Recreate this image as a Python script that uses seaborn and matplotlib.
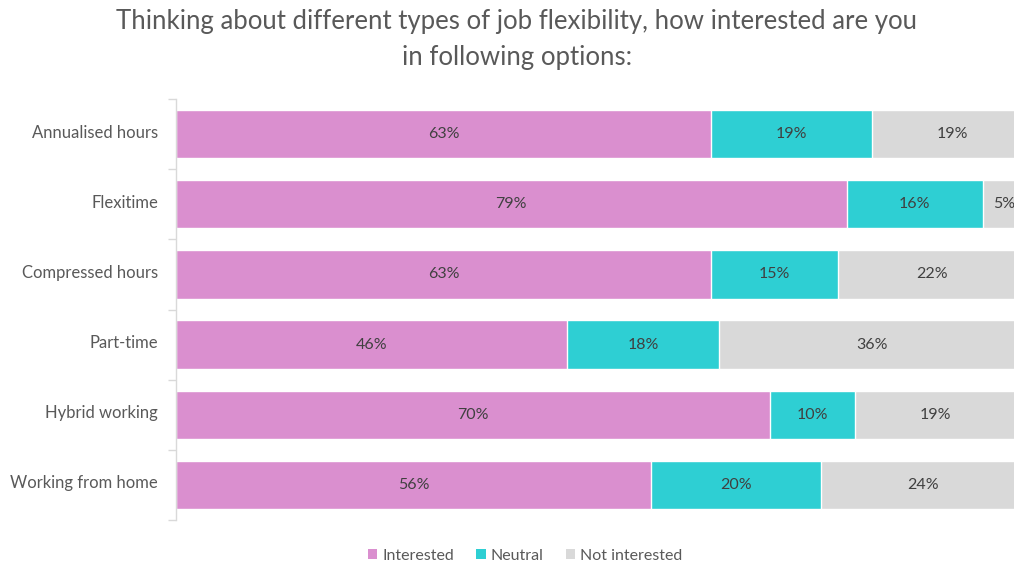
import numpy as np
import pandas as pd
import matplotlib
matplotlib.use("Agg")
import matplotlib.pyplot as plt
import matplotlib.transforms as mtransforms
import seaborn as sns
from matplotlib.patches import Patch

categories = ["Annualised hours", "Flexitime", "Compressed hours",
              "Part-time", "Hybrid working", "Working from home"]
interested = [63, 79, 63, 46, 70, 56]
neutral = [19, 16, 15, 18, 10, 20]
not_interested = [19, 5, 22, 36, 19, 24]
series_names = ["Interested", "Neutral", "Not interested"]

title_lines = ["Thinking about different types of job flexibility, how interested are you",
               "in following options:"]

colors = {"Interested": "#DA8FCF", "Neutral": "#2ECFD3", "Not interested": "#D9D9D9"}
text_color = "#595959"
label_color = "#404040"

sns.set_theme(style="white")
plt.rcParams["font.family"] = ["Lato", "DejaVu Sans"]

df = pd.DataFrame({
    "category": categories,
    "Interested": interested,
    "Neutral": neutral,
    "Not interested": not_interested,
})
df["cum1"] = df["Interested"]
df["cum2"] = df["cum1"] + df["Neutral"]
df["cum3"] = df["cum2"] + df["Not interested"]

fig = plt.figure(figsize=(10.14, 5.65), dpi=100)
W, H = 1014, 565
left_px, right_px, top_px, bottom_px = 176, 1025, 99, 520
ax = fig.add_axes([left_px / W, (H - bottom_px) / H,
                   (right_px - left_px) / W, (bottom_px - top_px) / H])

# Stacked bars drawn as overlapping cumulative totals, widest first
for col, name in [("cum3", "Not interested"), ("cum2", "Neutral"), ("cum1", "Interested")]:
    sns.barplot(data=df, x=col, y="category", orient="h", color=colors[name],
                width=0.69, edgecolor="white", linewidth=1.0, saturation=1,
                ax=ax)

# Segment value labels
for i, row in df.iterrows():
    starts = [0, row["cum1"], row["cum2"]]
    for start, name in zip(starts, series_names):
        v = row[name]
        ax.text(start + v / 2, i, f"{v}%", ha="center", va="center",
                fontsize=11.5, color=label_color)

ax.set_xlim(0, 100)
ax.set_ylim(5.5, -0.5)
ax.set_xlabel("")
ax.set_ylabel("")
ax.set_xticks([])

# Category axis with tick marks between categories
ax.set_yticks(np.arange(len(categories)))
ax.set_yticklabels(categories, fontsize=12, color=text_color)
ax.tick_params(axis="y", length=0, pad=13)
lift = mtransforms.ScaledTranslation(0, 3 / 100, fig.dpi_scale_trans)
for lbl in ax.get_yticklabels():
    lbl.set_transform(lbl.get_transform() + lift)
ax.set_yticks(np.arange(-0.5, len(categories)), minor=True)
ax.tick_params(axis="y", which="minor", length=6, width=1, color="#D9D9D9", left=True)
for side in ["top", "right", "bottom"]:
    ax.spines[side].set_visible(False)
ax.spines["left"].set_color("#D9D9D9")
ax.spines["left"].set_linewidth(1)

fig.text(517 / W, 1 - 22 / H, title_lines[0], ha="center", va="center",
         fontsize=18.5, color=text_color)
fig.text(517 / W, 1 - 57 / H, title_lines[1], ha="center", va="center",
         fontsize=18.5, color=text_color)

handles = [Patch(facecolor=colors[n], edgecolor="none") for n in series_names]
fig.legend(handles, series_names, loc="center", bbox_to_anchor=(525 / W, 1 - 556 / H),
           ncol=3, frameon=False, fontsize=11.5, handlelength=0.6, handleheight=0.6,
           handletextpad=0.3, columnspacing=1.4, labelcolor=text_color)

fig.savefig("out.png", dpi=100)
